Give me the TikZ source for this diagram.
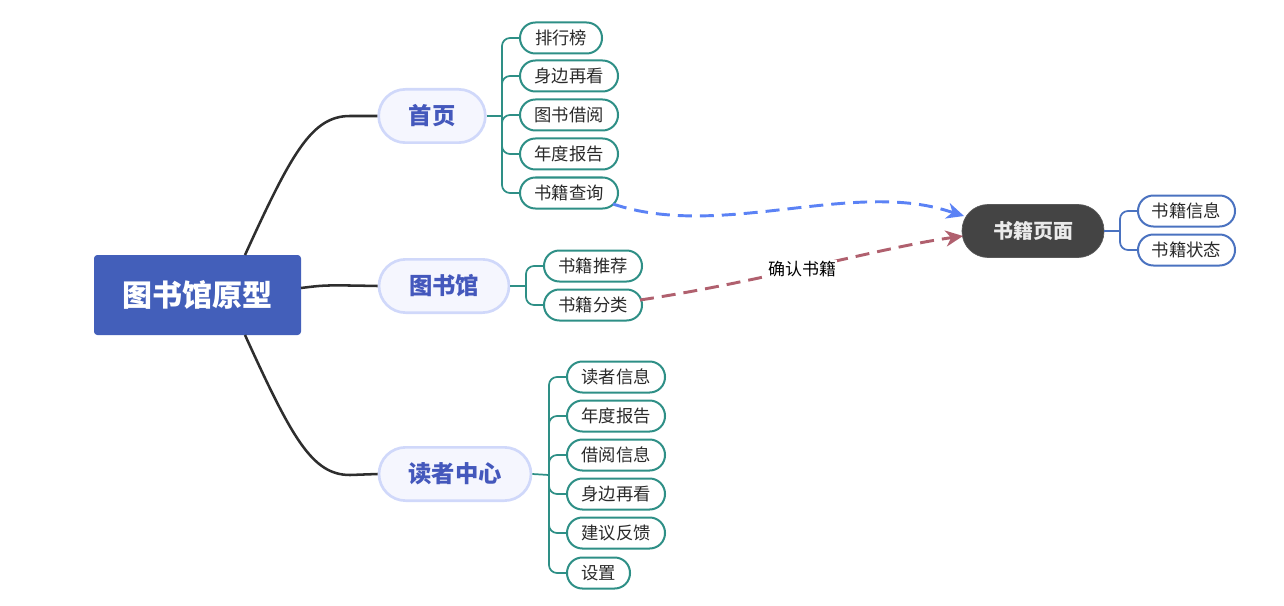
\documentclass[tikz,border=0pt]{standalone}
\usepackage{fontspec}
\setmainfont{Noto Sans CJK SC}
\usetikzlibrary{arrows.meta}
\definecolor{rootblue}{HTML}{435FBA}
\definecolor{mainfill}{HTML}{F5F6FE}
\definecolor{mainborder}{HTML}{D0D8FA}
\definecolor{maintext}{HTML}{4458BC}
\definecolor{leafteal}{HTML}{2E8F86}
\definecolor{leaftext}{HTML}{2A2A2A}
\definecolor{darknode}{HTML}{444444}
\definecolor{leafblue}{HTML}{4A72C0}
\definecolor{arrowblue}{HTML}{5B82F5}
\definecolor{arrowred}{HTML}{B0606E}
\definecolor{linkdark}{HTML}{2E2E2E}
\tikzset{
  rootbox/.style={fill=rootblue, rounded corners=2.5pt, minimum width=155.25pt, minimum height=60pt, inner sep=0pt, text=white, font=\fontsize{22.5}{26}\selectfont\bfseries},
  mainbox/.style={fill=mainfill, draw=mainborder, line width=2pt, rounded corners=20pt, minimum height=40pt, inner sep=0pt, text=maintext, font=\fontsize{17.5}{20}\selectfont\bfseries},
  leafbox/.style={draw=leafteal, line width=1.5pt, fill=white, rounded corners=11.5pt, minimum height=23.25pt, inner sep=0pt, text=leaftext, font=\fontsize{13}{15}\selectfont, anchor=west},
  bleafbox/.style={leafbox, draw=leafblue},
  darkbox/.style={fill=darknode, draw=gray!70!black, line width=0.5pt, rounded corners=19.5pt, minimum width=106.5pt, minimum height=39.75pt, inner sep=0pt, text=white!92!black, font=\fontsize{15}{18}\selectfont\bfseries},
  rootlink/.style={draw=linkdark, line width=1.9pt},
  tealink/.style={draw=leafteal, line width=1.3pt, rounded corners=6pt},
  bluelink/.style={draw=leafblue, line width=1.3pt, rounded corners=6pt},
  dashlink/.style={line width=2.2pt, dash pattern=on 10.5pt off 6pt},
  tiponly/.style={line width=2.2pt, solid, -{Stealth[length=13pt,width=12pt,inset=4pt]}},
}
\begin{document}
\begin{tikzpicture}[x=0.75pt,y=-0.75pt]
\useasboundingbox (0,0) rectangle (1284,606);

% root
\node[rootbox] (root) at (197.5,295) {图书馆原型};

% main branches
\node[mainbox, minimum width=80pt] (home) at (432,116) {首页};
\node[mainbox, minimum width=97.5pt] (lib) at (444,286) {图书馆};
\node[mainbox, minimum width=114pt] (reader) at (455,474) {读者中心};

% root links
\coordinate (r1) at (245,255);
\coordinate (r2) at (301,288);
\coordinate (r3) at (245,335);
\draw[rootlink] (r1) .. controls (292,152) and (312,116) .. (350,116) -- (home.west);
\draw[rootlink] (r2) .. controls (325,285) .. (lib.west);
\draw[rootlink] (r3) .. controls (292,438) and (312,475) .. (350,475) -- (reader.west);

% home leaves
\node[leafbox, minimum width=61.5pt] (h1) at (519,38) {排行榜};
\node[leafbox, minimum width=73.5pt] (h2) at (519,76) {身边再看};
\node[leafbox, minimum width=73.5pt] (h3) at (519,115) {图书借阅};
\node[leafbox, minimum width=73.5pt] (h4) at (519,154) {年度报告};
\node[leafbox, minimum width=73.5pt] (h5) at (519,193) {书籍查询};
\coordinate (th) at (502,116);
\draw[tealink] (home.east) -- (th);
\foreach \c in {h1,h2,h3,h4,h5} \draw[tealink] (th) |- (\c.west);

% library leaves
\node[leafbox, minimum width=73.5pt] (l1) at (543,266) {书籍推荐};
\node[leafbox, minimum width=73.5pt] (l2) at (543,305) {书籍分类};
\coordinate (tl) at (526,286);
\draw[tealink] (lib.east) -- (tl);
\foreach \c in {l1,l2} \draw[tealink] (tl) |- (\c.west);

% reader leaves
\node[leafbox, minimum width=73.5pt] (d1) at (566,377) {读者信息};
\node[leafbox, minimum width=73.5pt] (d2) at (566,416) {年度报告};
\node[leafbox, minimum width=73.5pt] (d3) at (566,455) {借阅信息};
\node[leafbox, minimum width=73.5pt] (d4) at (566,494) {身边再看};
\node[leafbox, minimum width=73.5pt] (d5) at (566,533) {建议反馈};
\node[leafbox, minimum width=47.25pt] (d6) at (566,573) {设置};
\coordinate (td) at (549,475);
\draw[tealink] (reader.east) -- (td);
\foreach \c in {d1,d2,d3,d4,d5,d6} \draw[tealink] (td) |- (\c.west);

% book page
\node[darkbox] (book) at (1033,231) {书籍页面};
\node[bleafbox, minimum width=72.75pt] (b1) at (1137,211) {书籍信息};
\node[bleafbox, minimum width=72.75pt] (b2) at (1137,250) {书籍状态};
\coordinate (tb) at (1120,231);
\draw[bluelink] (book.east) -- (tb);
\foreach \c in {b1,b2} \draw[bluelink] (tb) |- (\c.west);

% cross links
\coordinate (s1) at (613,204);
\coordinate (e1) at (964,216);
\coordinate (p1) at (948,211);
\draw[dashlink, draw=arrowblue] (s1) .. controls (720,240) and (850,180) .. (p1);
\draw[tiponly, draw=arrowblue] (p1) -- (e1);
\coordinate (s2) at (640,300);
\coordinate (e2) at (963,236);
\coordinate (p2) at (947,238.3);
\draw[dashlink, draw=arrowred] (s2) .. controls (760,282) and (880,248) .. (p2);
\draw[tiponly, draw=arrowred] (p2) -- (e2);
\node[fill=white, inner sep=1pt, font=\fontsize{12.75}{15}\selectfont, text=black] (lab) at (802,269) {确认书籍};
\end{tikzpicture}
\end{document}
